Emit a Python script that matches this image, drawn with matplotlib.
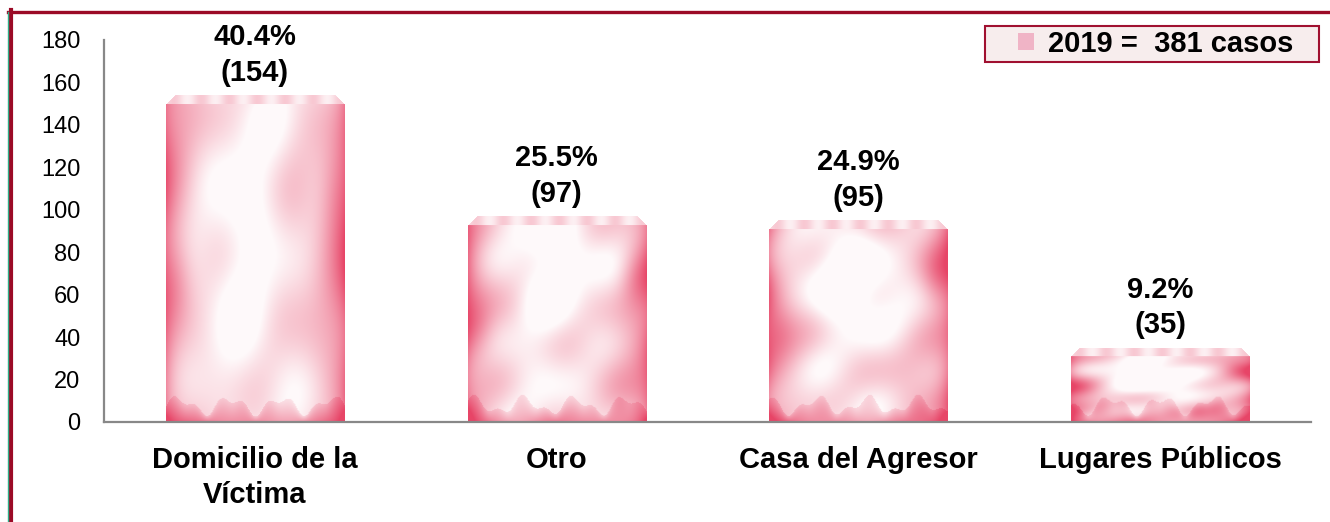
import numpy as np
import matplotlib
matplotlib.use('Agg')
import matplotlib.pyplot as plt
from matplotlib.patches import Patch, Rectangle
from matplotlib.lines import Line2D

# ---- data ----
categories = ['Domicilio de la\nVíctima', 'Otro', 'Casa del Agresor', 'Lugares Públicos']
values = [154, 97, 95, 35]
percents = ['40.4%', '25.5%', '24.9%', '9.2%']
legend_label = '2019 =  381 casos'
yticks = list(range(0, 181, 20))

plt.rcParams['font.family'] = ['Liberation Sans', 'DejaVu Sans']

W, H = 1330, 522
fig = plt.figure(figsize=(W / 100, H / 100), dpi=100)
ax = fig.add_axes([104 / W, 100 / H, (1311 - 104) / W, (422 - 40) / H])

x = np.arange(len(values))
bars = ax.bar(x, values, width=0.59, color='none', edgecolor='none', zorder=2)
ax.set_xlim(-0.5, 3.5)
ax.set_ylim(0, 180)

PINK = np.array([230, 60, 96]) / 255.0
WHITE = np.array([1.0, 1.0, 1.0])


def texture(nh, nw, k):
    yy, xx = np.mgrid[0:nh, 0:nw].astype(float)
    u = xx / max(nw - 1, 1)
    v = yy / max(nh - 1, 1)  # 0 top, 1 bottom
    edge = np.minimum(u, 1 - u)
    t = 0.22 + 0.5 * np.exp(-edge / 0.08)
    cloud = (np.sin(6 * u + 2.1 * k + 4 * v) * np.sin(9 * v * (1 + 0.2 * k) + 3 * u)
             + 0.5 * np.sin(14 * u - 6 * v + k) * np.cos(11 * v + 4 * u))
    t += 0.16 * cloud
    # pink blotches on the sides
    t += 0.25 * np.exp(-((u - 0.05) ** 2 / 0.01 + (v - 0.55) ** 2 / 0.02))
    t += 0.25 * np.exp(-((u - 0.95) ** 2 / 0.01 + (v - 0.3) ** 2 / 0.02))
    # white glow in the centre
    t -= 0.35 * np.exp(-((u - 0.45) ** 2 / 0.06 + (v - 0.35) ** 2 / 0.15))
    # pink ridges near the bottom
    dist_b = (nh - 1 - yy)
    ridge = 16 + 7 * np.sin(u * 22 + k) + 4 * np.sin(u * 47)
    inside = dist_b < ridge
    t += inside * (0.12 + 0.3 * (1 - dist_b / (ridge + 1e-9)))
    t = np.clip(t, 0.03, 0.95)
    # top bevel
    bev = 9
    top = yy < bev
    t[top] = 0.18 + 0.1 * np.sin(u[top] * 40)
    img = WHITE[None, None, :] * (1 - t[..., None]) + PINK[None, None, :] * t[..., None]
    corner = top & ((xx < bev - yy) | (xx > nw - 1 - (bev - yy)))
    img[corner] = 1.0
    return img


px_per_unit = (422 - 40) / 180.0
for i, b in enumerate(bars):
    nh = max(int(b.get_height() * px_per_unit), 10)
    nw = 177
    img = texture(nh, nw, i)
    im = ax.imshow(img, extent=(b.get_x(), b.get_x() + b.get_width(), 0, b.get_height()),
                   aspect='auto', interpolation='bilinear', zorder=2)
    im.set_clip_path(b)

ax.set_xlim(-0.5, 3.5)
ax.set_ylim(0, 180)

for b, p, v in zip(bars, percents, values):
    ax.annotate(f'{p}\n({v})', (b.get_x() + b.get_width() / 2, b.get_height()),
                xytext=(0, 6), textcoords='offset points', ha='center', va='bottom',
                fontsize=21, fontweight='bold', linespacing=1.35)

ax.set_yticks(yticks)
ax.set_xticks(x, categories)
ax.tick_params(axis='y', length=0, pad=17, labelsize=17)
ax.tick_params(axis='x', length=0, pad=17.5, labelsize=21)
for lbl in ax.get_xticklabels():
    lbl.set_fontweight('bold')
    lbl.set_linespacing(1.3)

for s in ['top', 'right']:
    ax.spines[s].set_visible(False)
for s in ['left', 'bottom']:
    ax.spines[s].set_color('#888888')
    ax.spines[s].set_linewidth(1.6)

# legend frame (drawn in figure coordinates) and legend
frame = Rectangle((985 / W, 1 - 62 / H), (1319 - 985) / W, 36 / H,
                  transform=fig.transFigure, facecolor='#f7eded',
                  edgecolor='#a01030', lw=1.5, zorder=5, clip_on=False)
ax.add_patch(frame)
handle = Patch(facecolor='#f0b4c6', edgecolor='none')
leg = ax.legend([handle], [legend_label], loc='center left',
                bbox_to_anchor=(1018 / W, 1 - 44 / H), bbox_transform=fig.transFigure,
                frameon=False, borderaxespad=0, borderpad=0,
                handlelength=0.55, handleheight=0.55, handletextpad=0.48,
                prop={'size': 21, 'weight': 'bold'})
leg.set_zorder(6)

# figure frame decoration
fig.add_artist(Line2D([8 / W, 1], [1 - 11.5 / H] * 2, transform=fig.transFigure,
                      color='#9b0a26', lw=2.4))
fig.add_artist(Line2D([11 / W, 11 / W], [0, 1 - 10 / H], transform=fig.transFigure,
                      color='#9b0a26', lw=3.0))
fig.add_artist(Line2D([7.5 / W, 7.5 / W], [0, 1 - 12 / H], transform=fig.transFigure,
                      color='#2fb08a', lw=1.0))

fig.savefig('out.png', dpi=100)
